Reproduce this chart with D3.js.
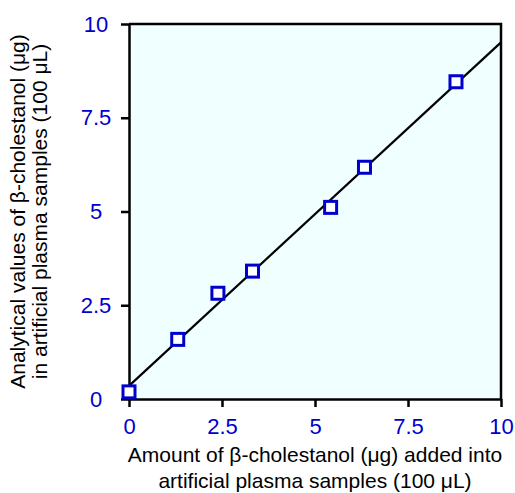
<!DOCTYPE html>
<html>
<head>
<meta charset="utf-8">
<script src="https://cdn.jsdelivr.net/npm/d3@7/dist/d3.min.js"></script>
<style>
  html, body { margin: 0; padding: 0; background: #ffffff; }
  svg { display: block; }
  text { font-family: "Liberation Sans", Arial, sans-serif; }
</style>
</head>
<body>
<svg id="chart" width="515" height="493"></svg>
<script>
// Data
const addedAmount   = [0, 1.31, 2.39, 3.32, 5.42, 6.33, 8.79];
const measuredValue = [0.19, 1.59, 2.82, 3.41, 5.11, 6.18, 8.46];
// Regression line endpoints (as drawn)
const fitX = [0, 10];
const fitY = [0.35, 9.51];
// Ticks
const xTicks = [0, 2.5, 5, 7.5, 10];
const yTicks = [0, 2.5, 5, 7.5, 10];
const xTitleLines = ["Amount of \u03B2-cholestanol (\u03BCg) added into", "artificial plasma samples (100 \u03BCL)"];
const yTitleLines = ["Analytical values of \u03B2-cholestanol (\u03BCg)", "in artificial plasma samples (100 \u03BCL)"];

const svg = d3.select("#chart");
const L = 129, R = 501, T = 24, B = 399;
const blue = "#0000cc";

const x = d3.scaleLinear().domain([0, 10]).range([L, R]);
const y = d3.scaleLinear().domain([0, 10]).range([B, T]);

// plot background
svg.append("rect")
  .attr("x", L).attr("y", T).attr("width", R - L).attr("height", B - T)
  .attr("fill", "#f0ffff");

// regression line
svg.append("line")
  .attr("x1", x(fitX[0])).attr("y1", y(fitY[0]))
  .attr("x2", x(fitX[1])).attr("y2", y(fitY[1]))
  .attr("stroke", "#000").attr("stroke-width", 2.2);

// frame top & right
svg.append("path")
  .attr("d", `M${L},${T}H${R}V${B}`)
  .attr("fill", "none").attr("stroke", "#000").attr("stroke-width", 2.5);

const fmt = d => String(d);

const xAxis = svg.append("g")
  .attr("transform", `translate(0,${B})`)
  .call(d3.axisBottom(x).tickValues(xTicks).tickFormat(fmt).tickSize(8).tickSizeOuter(0).tickPadding(11));
const yAxis = svg.append("g")
  .attr("transform", `translate(${L},0)`)
  .call(d3.axisLeft(y).tickValues(yTicks).tickFormat(fmt).tickSize(8).tickSizeOuter(0));

[xAxis, yAxis].forEach(g => {
  g.select(".domain").attr("stroke", "#000").attr("stroke-width", 2.5);
  g.selectAll(".tick line").attr("stroke", "#000").attr("stroke-width", 2.5);
  g.selectAll(".tick text")
    .attr("fill", blue)
    .style("font-family", '"Liberation Sans", Arial, sans-serif')
    .style("font-size", "22px");
});
yAxis.selectAll(".tick text").attr("text-anchor", "middle").attr("x", -33);

// markers
const s = 12;
svg.append("g").selectAll("rect")
  .data(addedAmount.map((d, i) => [d, measuredValue[i]]))
  .join("rect")
  .attr("x", d => x(d[0]) - s / 2)
  .attr("y", d => y(d[1]) - s / 2)
  .attr("width", s).attr("height", s)
  .attr("fill", "#fff")
  .attr("stroke", blue)
  .attr("stroke-width", 3);

// x title
svg.append("g").selectAll("text")
  .data(xTitleLines)
  .join("text")
  .attr("x", (L + R) / 2)
  .attr("y", (d, i) => 462 + i * 26)
  .attr("text-anchor", "middle")
  .attr("fill", "#000")
  .style("font-size", "21px")
  .text(d => d);

// y title
svg.append("g").selectAll("text")
  .data(yTitleLines)
  .join("text")
  .attr("transform", (d, i) => `translate(${25 + i * 22},${(T + B) / 2}) rotate(-90)`)
  .attr("text-anchor", "middle")
  .attr("fill", "#000")
  .style("font-size", "21px")
  .text(d => d);
</script>
</body>
</html>
